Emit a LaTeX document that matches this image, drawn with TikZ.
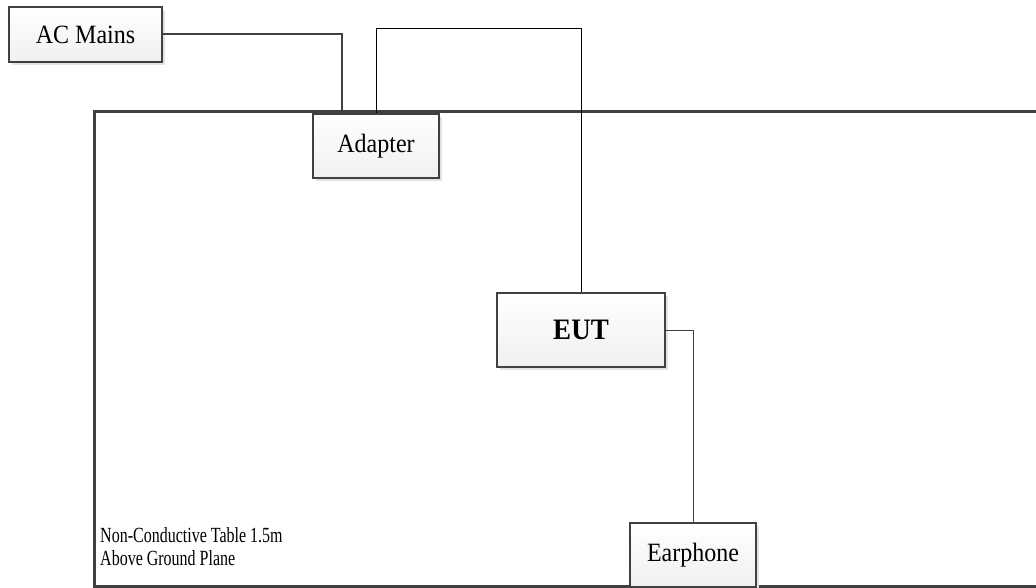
\documentclass[tikz,border=0pt]{standalone}
\usepackage{fontspec}
\usepackage{graphicx}
\setmainfont{Liberation Serif}
\usetikzlibrary{shadows}
\definecolor{edge}{HTML}{404040}
\newcommand{\tallbox}[1]{\scalebox{1}[1.1]{#1}}
\newcommand{\talllabel}[1]{\scalebox{1}[1.35]{#1}}
\tikzset{
  unitbox/.style={draw=edge, line width=2pt, top color=white, bottom color=gray!12,
    drop shadow={shadow xshift=3pt, shadow yshift=-3pt, fill=gray!22, opacity=1},
    inner sep=0pt, font=\fontsize{24}{28}\selectfont},
  thickwire/.style={draw=edge, line width=2pt},
  thinwire/.style={draw=black, line width=1pt},
  tableline/.style={draw=edge, line width=3pt}
}
\begin{document}
\begin{tikzpicture}[x=1pt,y=-1pt]
\useasboundingbox (0,0) rectangle (1036,588);
\draw[tableline] (1040,112) -- (94,112) -- (94,586) -- (1040,586);
\node[unitbox, minimum width=153pt, minimum height=55pt] (ac) at (85.5,34.5) {\tallbox{AC Mains}};
\node[unitbox, minimum width=126pt, minimum height=64pt] (adapter) at (376,146) {\tallbox{Adapter}};
\node[unitbox, minimum width=168pt, minimum height=74pt, font=\fontsize{27}{30}\selectfont\bfseries] (eut) at (581,330) {\tallbox{EUT}};
\node[unitbox, minimum width=126pt, minimum height=64pt] (earphone) at (693,555) {\tallbox{Earphone}};
\coordinate (acdrop) at (342,112);
\coordinate (toprun) at (0,29);
\draw[thickwire] (ac.east) -| (acdrop);
\draw[thinwire] (adapter.north) -- (adapter.north |- toprun) -| (eut.north);
\draw[draw=edge, line width=1pt] (eut.east) -| (earphone.north);
\node[anchor=base west, align=left, inner sep=0pt, font=\fontsize{16}{23}\selectfont] (label) at (100,565) {\talllabel{Non-Conductive Table 1.5m}\\\talllabel{Above Ground Plane}};
\end{tikzpicture}
\end{document}
